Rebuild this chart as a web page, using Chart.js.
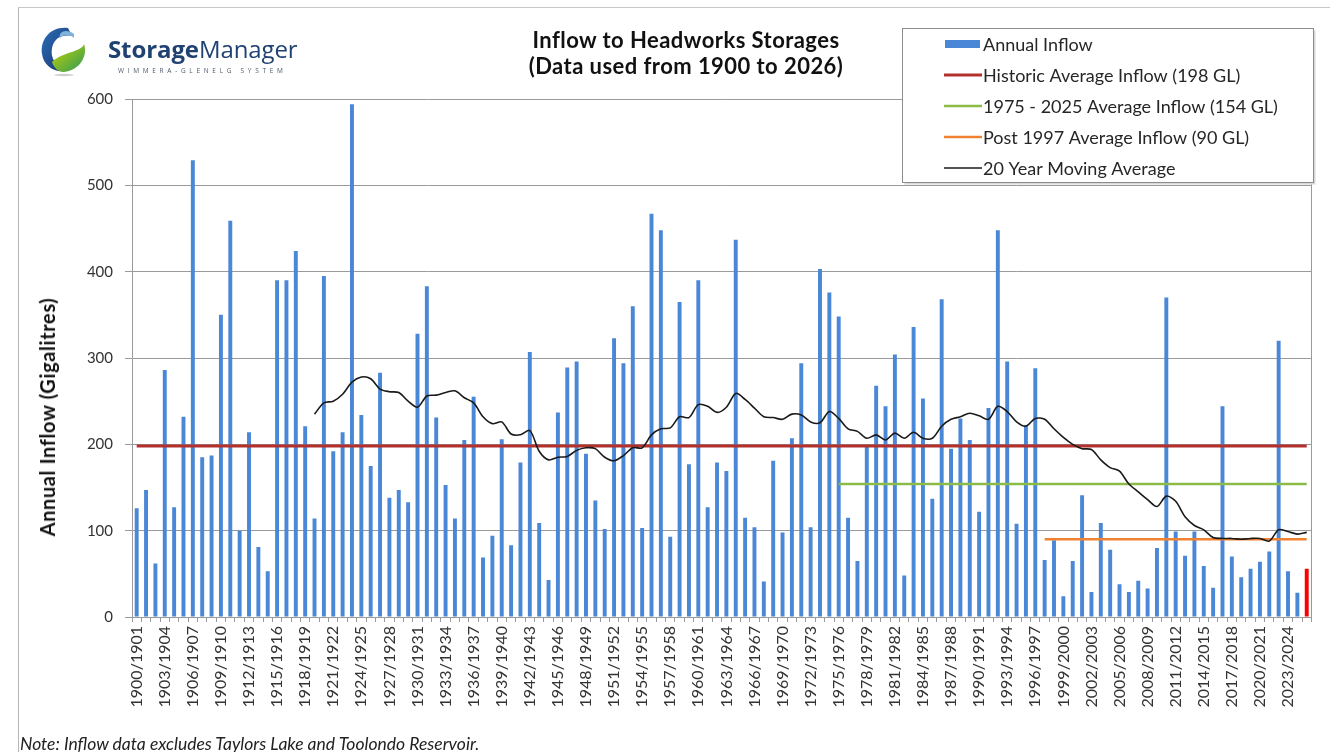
<!DOCTYPE html>
<html>
<head>
<meta charset="utf-8">
<script src="https://cdn.jsdelivr.net/npm/chart.js@4.4.1/dist/chart.umd.min.js"></script>
<style>
  html, body { margin:0; padding:0; background:#fff; }
  #wrap { position:relative; width:1330px; height:752px; overflow:hidden; background:#fff; }
  #frame { position:absolute; left:18px; top:7px; width:1320px; height:760px; border-left:1px solid #b5b5b5; border-top:1px solid #c8c8c8; }
  canvas { position:absolute; left:0; top:0; }
  #title { position:absolute; left:436px; top:27px; width:500px; text-align:center; font-family:Lato, sans-serif; font-weight:bold; font-size:22px; letter-spacing:0.45px; line-height:26px; color:#111; }
  #logo { position:absolute; left:36px; top:22px; width:290px; height:60px; }
  #brand { position:absolute; left:72px; top:10px; font-family:"Open Sans", sans-serif; font-size:24px; color:#1f4273; letter-spacing:-0.1px; white-space:nowrap; }
  #brand b { font-weight:700; }
  #brand span { font-weight:400; }
  #sub { position:absolute; left:82px; top:44px; font-family:"Open Sans", sans-serif; font-size:6.5px; letter-spacing:3.7px; color:#4d5a6a; white-space:nowrap; }
  #ytitle { position:absolute; left:47px; top:417px; transform:translate(-50%,-50%) rotate(-90deg); font-family:Lato, sans-serif; font-weight:bold; font-size:20px; letter-spacing:0.6px; color:#111; white-space:nowrap; }
  #note { position:absolute; left:20px; top:733px; font-family:Lato, sans-serif; font-style:italic; font-size:17.5px; color:#222; white-space:nowrap; }
</style>
</head>
<body>
<div id="wrap">
  <div id="frame"></div>
  <canvas id="c" width="1330" height="752"></canvas>
  <div id="logo">
    <svg width="52" height="56" viewBox="0 0 52 56" style="position:absolute;left:2px;top:0">
      <defs>
        <linearGradient id="g1" x1="0" y1="0" x2="1" y2="1">
          <stop offset="0" stop-color="#c8d400"/>
          <stop offset="1" stop-color="#2e9a5a"/>
        </linearGradient>
        <linearGradient id="g2" x1="0" y1="0" x2="1" y2="1">
          <stop offset="0" stop-color="#2a6fb8"/>
          <stop offset="1" stop-color="#1b2f6b"/>
        </linearGradient>
      </defs>
      <path d="M30 6 C12 4 2 18 4 32 C6 46 20 52 30 48 C18 46 12 36 14 26 C16 16 24 12 34 14 Z" fill="url(#g2)"/>
      <path d="M36 12 C28 6 20 10 22 16 C26 12 32 12 36 16 Z" fill="#7fb2dc"/>
      <path d="M14 40 C24 30 44 30 46 22 C50 34 42 48 26 50 C20 50 16 46 14 40 Z" fill="url(#g1)"/>
      <ellipse cx="26" cy="53" rx="10" ry="1.2" fill="#cfcfcf"/>
    </svg>
    <div id="brand"><b>Storage</b><span>Manager</span></div>
    <div id="sub">WIMMERA-GLENELG SYSTEM</div>
  </div>
  <div id="title">Inflow to Headworks Storages<br>(Data used from 1900 to 2026)</div>
  <div id="ytitle">Annual Inflow (Gigalitres)</div>
  <div id="note">Note: Inflow data excludes Taylors Lake and Toolondo Reservoir.</div>
</div>
<script>
const categories = [
 "1900/1901","1901/1902","1902/1903","1903/1904","1904/1905","1905/1906","1906/1907","1907/1908","1908/1909","1909/1910",
 "1910/1911","1911/1912","1912/1913","1913/1914","1914/1915","1915/1916","1916/1917","1917/1918","1918/1919","1919/1920",
 "1920/1921","1921/1922","1922/1923","1923/1924","1924/1925","1925/1926","1926/1927","1927/1928","1928/1929","1929/1930",
 "1930/1931","1931/1932","1932/1933","1933/1934","1934/1935","1935/1936","1936/1937","1937/1938","1938/1939","1939/1940",
 "1940/1941","1941/1942","1942/1943","1943/1944","1944/1945","1945/1946","1946/1947","1947/1948","1948/1949","1949/1950",
 "1950/1951","1951/1952","1952/1953","1953/1954","1954/1955","1955/1956","1956/1957","1957/1958","1958/1959","1959/1960",
 "1960/1961","1961/1962","1962/1963","1963/1964","1964/1965","1965/1966","1966/1967","1967/1968","1968/1969","1969/1970",
 "1970/1971","1971/1972","1972/1973","1973/1974","1974/1975","1975/1976","1976/1977","1977/1978","1978/1979","1979/1980",
 "1980/1981","1981/1982","1982/1983","1983/1984","1984/1985","1985/1986","1986/1987","1987/1988","1988/1989","1989/1990",
 "1990/1991","1991/1992","1992/1993","1993/1994","1994/1995","1995/1996","1996/1997","1997/1998","1998/1999","1999/2000",
 "2000/2001","2001/2002","2002/2003","2003/2004","2004/2005","2005/2006","2006/2007","2007/2008","2008/2009","2009/2010",
 "2010/2011","2011/2012","2012/2013","2013/2014","2014/2015","2015/2016","2016/2017","2017/2018","2018/2019","2019/2020",
 "2020/2021","2021/2022","2022/2023","2023/2024","2024/2025","2025/2026"
];

const annualInflow = [
 126,147,62,286,127,232,529,185,187,350,
 459,100,214,81,53,390,390,424,221,114,
 395,192,214,594,234,175,283,138,147,133,
 328,383,231,153,114,205,255,69,94,206,
 83,179,307,109,43,237,289,296,189,135,
 102,323,294,360,103,467,448,93,365,177,
 390,127,179,169,437,115,104,41,181,98,
 207,294,104,403,376,348,115,65,197,268,
 244,304,48,336,253,137,368,195,230,205,
 122,242,448,296,108,222,288,66,89,24,
 65,141,29,109,78,38,29,42,33,80,
 370,99,71,99,59,34,244,70,46,56,
 64,76,320,53,28,56
];

// 20 year moving average, starting at 1919/1920
const movingAverageStart = "1919/1920";
const movingAverage = [
 235,248,250,258,272,278,276,264,261,260,250,243,256,
 257,260,262,254,248,232,224,226,212,211,216,192,182,185,186,193,196,195,185,181,187,196,196,211,218,219,232,231,246,244,237,243,
 259,252,242,232,231,229,235,234,226,225,238,230,218,215,207,211,205,213,207,214,207,207,221,229,232,236,233,229,244,238,226,221,
 230,229,218,208,200,195,194,182,173,169,154,145,136,128,140,134,116,106,101,92,91,91,90,91,91,88,101,99,96,98
];

// average lines: [startCategory, endCategory, value]
const historicAverage = ["1900/1901", "2025/2026", 198];
const recentAverage = ["1975/1976", "2025/2026", 154];
const post1997Average = ["1997/1998", "2025/2026", 90];

const yTicks = [0, 100, 200, 300, 400, 500, 600];

const BLUE = '#4a87d6';
const barColors = categories.map((c, i) => i === categories.length - 1 ? '#ff0000' : BLUE);
const maStartIdx = categories.indexOf(movingAverageStart);
const maData = movingAverage.map((v, i) => ({ x: categories[maStartIdx + i], y: v }));
const seg = a => [{ x: a[0], y: a[2] }, { x: a[1], y: a[2] }];

const FONT = 'Lato, "Open Sans", sans-serif';

const boxLegend = {
  id: 'boxLegend',
  afterDraw(chart) {
    const ctx = chart.ctx;
    const area = chart.chartArea;
    ctx.save();
    // right border of plot area
    ctx.strokeStyle = '#9a9a9a';
    ctx.lineWidth = 1;
    ctx.beginPath();
    ctx.moveTo(Math.round(area.right) + 0.5, area.top);
    ctx.lineTo(Math.round(area.right) + 0.5, area.bottom);
    ctx.stroke();

    // legend box
    const bx = 902.5, by = 28.5, bw = 411, bh = 154;
    ctx.fillStyle = '#d8d8d8';
    ctx.fillRect(bx + 2, by + 2, bw, bh);
    ctx.fillStyle = '#ffffff';
    ctx.fillRect(bx, by, bw, bh);
    ctx.strokeStyle = '#8c8c8c';
    ctx.strokeRect(bx, by, bw, bh);
    const ds = chart.data.datasets;
    const rowY0 = 44, rowGap = 31;
    ctx.font = '18px ' + FONT;
    ctx.textBaseline = 'middle';
    ctx.textAlign = 'left';
    ds.forEach((d, i) => {
      const y = rowY0 + i * rowGap;
      if (d.type === 'bar' || !d.type) {
        ctx.fillStyle = BLUE;
        ctx.fillRect(945, y - 4, 35, 8);
      } else {
        ctx.strokeStyle = d.borderColor;
        ctx.lineWidth = d.legendWidth || d.borderWidth;
        ctx.beginPath();
        ctx.moveTo(944, y);
        ctx.lineTo(982, y);
        ctx.stroke();
      }
      ctx.fillStyle = '#262626';
      ctx.fillText(d.label, 983, y + 1);
    });
    ctx.restore();
  }
};

new Chart(document.getElementById('c'), {
  data: {
    labels: categories,
    datasets: [
      {
        type: 'bar', label: 'Annual Inflow', data: annualInflow,
        backgroundColor: barColors, barPercentage: 0.42, categoryPercentage: 1, order: 10
      },
      {
        type: 'line', label: 'Historic Average Inflow (198 GL)', data: seg(historicAverage),
        borderColor: '#b3302d', borderWidth: 3, pointRadius: 0, order: 3
      },
      {
        type: 'line', label: '1975 - 2025 Average Inflow (154 GL)', data: seg(recentAverage),
        borderColor: '#8cbb47', borderWidth: 2.5, pointRadius: 0, order: 2
      },
      {
        type: 'line', label: 'Post 1997 Average Inflow (90 GL)', data: seg(post1997Average),
        borderColor: '#f08232', borderWidth: 2.5, pointRadius: 0, order: 1
      },
      {
        type: 'line', label: '20 Year Moving Average', data: maData,
        borderColor: '#1a1a1a', borderWidth: 1.6, pointRadius: 0, tension: 0.3, order: 0, legendWidth: 1.5
      }
    ]
  },
  options: {
    responsive: false,
    animation: false,
    layout: { padding: { left: 33, right: 17, top: 99, bottom: 0 } },
    plugins: { legend: { display: false }, tooltip: { enabled: false }, title: { display: false } },
    scales: {
      x: {
        type: 'category',
        offset: true,
        grid: { display: true, drawOnChartArea: false, drawTicks: true, tickLength: 5, color: '#9a9a9a', offset: true },
        border: { color: '#9a9a9a' },
        ticks: {
          autoSkip: false, maxRotation: 90, minRotation: 90, padding: 4,
          color: '#333', font: { family: FONT, size: 16 },
          callback: function (v, i) { return i % 3 === 0 ? this.getLabelForValue(v) : ''; }
        },
        afterFit(s) { s.height = 135; }
      },
      y: {
        min: 0, max: 600,
        afterBuildTicks(s) { s.ticks = yTicks.map(v => ({ value: v })); },
        grid: { color: '#9a9a9a', tickLength: 7 },
        border: { color: '#9a9a9a' },
        ticks: { padding: 12, color: '#333', font: { family: FONT, size: 15 } },
        title: { display: false },
        afterFit(s) { s.width = 132 - 33; }
      }
    }
  },
  plugins: [boxLegend]
});
</script>
</body>
</html>
